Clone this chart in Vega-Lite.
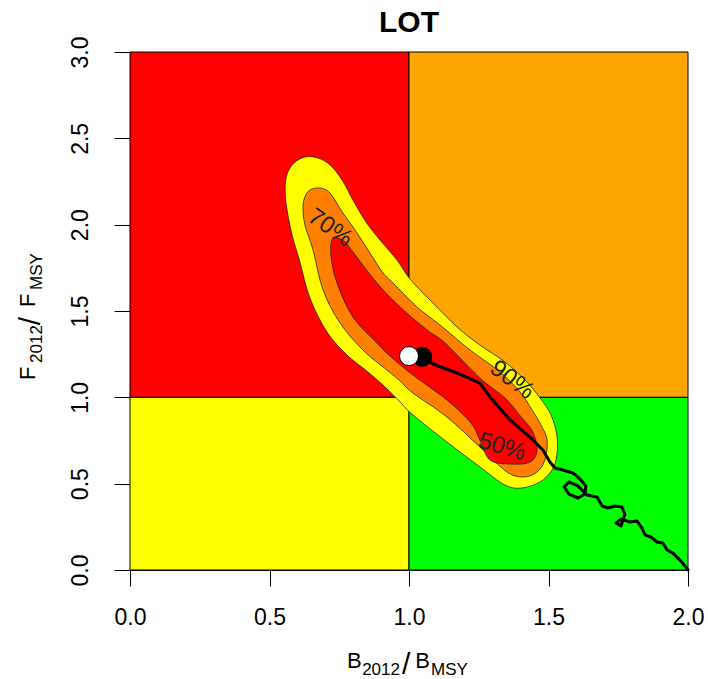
{
  "$schema": "https://vega.github.io/schema/vega-lite/v6.json",
  "width": 558,
  "height": 518,
  "autosize": {"type": "none"},
  "padding": {"left": 130, "top": 52, "right": 20, "bottom": 109},
  "background": "white",
  "config": {
    "view": {"stroke": null},
    "font": "Liberation Sans",
    "axis": {"grid": false, "tickSize": 16, "labelFontSize": 23, "labelFont": "Liberation Sans", "labelColor": "black", "tickColor": "black", "domainColor": "black", "labelFlush": false, "labelOverlap": false},
    "axisX": {"labelPadding": 20},
    "axisY": {"labelPadding": 22, "labelAngle": -90, "labelAlign": "center", "labelBaseline": "bottom"}
  },
  "title": {"text": "LOT", "fontSize": 30, "font": "Liberation Sans", "fontWeight": "bold", "anchor": "middle", "frame": "group", "offset": -2, "color": "black"},
  "datasets": {
    "quads": [
      {"zone": "red", "x": 0, "x2": 1, "y": 1, "y2": 3},
      {"zone": "orange", "x": 1, "x2": 2, "y": 1, "y2": 3},
      {"zone": "yellow", "x": 0, "x2": 1, "y": 0, "y2": 1},
      {"zone": "green", "x": 1, "x2": 2, "y": 0, "y2": 1}
    ],
    "contours": [
      {"level": "90%", "i": 0, "x": 0.556, "y": 2.201},
      {"level": "90%", "i": 1, "x": 0.563, "y": 2.293},
      {"level": "90%", "i": 2, "x": 0.588, "y": 2.357},
      {"level": "90%", "i": 3, "x": 0.627, "y": 2.392},
      {"level": "90%", "i": 4, "x": 0.674, "y": 2.386},
      {"level": "90%", "i": 5, "x": 0.717, "y": 2.346},
      {"level": "90%", "i": 6, "x": 0.760, "y": 2.259},
      {"level": "90%", "i": 7, "x": 0.799, "y": 2.143},
      {"level": "90%", "i": 8, "x": 0.846, "y": 2.015},
      {"level": "90%", "i": 9, "x": 0.896, "y": 1.911},
      {"level": "90%", "i": 10, "x": 0.957, "y": 1.795},
      {"level": "90%", "i": 11, "x": 1.004, "y": 1.685},
      {"level": "90%", "i": 12, "x": 1.086, "y": 1.546},
      {"level": "90%", "i": 13, "x": 1.176, "y": 1.402},
      {"level": "90%", "i": 14, "x": 1.254, "y": 1.303},
      {"level": "90%", "i": 15, "x": 1.344, "y": 1.205},
      {"level": "90%", "i": 16, "x": 1.416, "y": 1.100},
      {"level": "90%", "i": 17, "x": 1.470, "y": 0.996},
      {"level": "90%", "i": 18, "x": 1.509, "y": 0.898},
      {"level": "90%", "i": 19, "x": 1.530, "y": 0.782},
      {"level": "90%", "i": 20, "x": 1.530, "y": 0.666},
      {"level": "90%", "i": 21, "x": 1.513, "y": 0.579},
      {"level": "90%", "i": 22, "x": 1.470, "y": 0.510},
      {"level": "90%", "i": 23, "x": 1.405, "y": 0.475},
      {"level": "90%", "i": 24, "x": 1.344, "y": 0.492},
      {"level": "90%", "i": 25, "x": 1.254, "y": 0.597},
      {"level": "90%", "i": 26, "x": 1.136, "y": 0.741},
      {"level": "90%", "i": 27, "x": 1.014, "y": 0.898},
      {"level": "90%", "i": 28, "x": 0.968, "y": 0.973},
      {"level": "90%", "i": 29, "x": 0.914, "y": 1.060},
      {"level": "90%", "i": 30, "x": 0.849, "y": 1.152},
      {"level": "90%", "i": 31, "x": 0.778, "y": 1.245},
      {"level": "90%", "i": 32, "x": 0.706, "y": 1.378},
      {"level": "90%", "i": 33, "x": 0.645, "y": 1.575},
      {"level": "90%", "i": 34, "x": 0.609, "y": 1.784},
      {"level": "90%", "i": 35, "x": 0.581, "y": 1.940},
      {"level": "90%", "i": 36, "x": 0.563, "y": 2.085},
      {"level": "70%", "i": 0, "x": 0.620, "y": 2.102},
      {"level": "70%", "i": 1, "x": 0.627, "y": 2.160},
      {"level": "70%", "i": 2, "x": 0.645, "y": 2.201},
      {"level": "70%", "i": 3, "x": 0.681, "y": 2.212},
      {"level": "70%", "i": 4, "x": 0.717, "y": 2.183},
      {"level": "70%", "i": 5, "x": 0.763, "y": 2.068},
      {"level": "70%", "i": 6, "x": 0.814, "y": 1.952},
      {"level": "70%", "i": 7, "x": 0.860, "y": 1.836},
      {"level": "70%", "i": 8, "x": 0.907, "y": 1.720},
      {"level": "70%", "i": 9, "x": 0.943, "y": 1.662},
      {"level": "70%", "i": 10, "x": 1.029, "y": 1.523},
      {"level": "70%", "i": 11, "x": 1.111, "y": 1.419},
      {"level": "70%", "i": 12, "x": 1.219, "y": 1.274},
      {"level": "70%", "i": 13, "x": 1.326, "y": 1.147},
      {"level": "70%", "i": 14, "x": 1.398, "y": 1.031},
      {"level": "70%", "i": 15, "x": 1.441, "y": 0.927},
      {"level": "70%", "i": 16, "x": 1.473, "y": 0.840},
      {"level": "70%", "i": 17, "x": 1.495, "y": 0.753},
      {"level": "70%", "i": 18, "x": 1.487, "y": 0.637},
      {"level": "70%", "i": 19, "x": 1.459, "y": 0.568},
      {"level": "70%", "i": 20, "x": 1.412, "y": 0.539},
      {"level": "70%", "i": 21, "x": 1.351, "y": 0.568},
      {"level": "70%", "i": 22, "x": 1.254, "y": 0.712},
      {"level": "70%", "i": 23, "x": 1.136, "y": 0.886},
      {"level": "70%", "i": 24, "x": 1.014, "y": 1.025},
      {"level": "70%", "i": 25, "x": 0.968, "y": 1.095},
      {"level": "70%", "i": 26, "x": 0.921, "y": 1.158},
      {"level": "70%", "i": 27, "x": 0.835, "y": 1.274},
      {"level": "70%", "i": 28, "x": 0.753, "y": 1.430},
      {"level": "70%", "i": 29, "x": 0.692, "y": 1.622},
      {"level": "70%", "i": 30, "x": 0.656, "y": 1.853},
      {"level": "70%", "i": 31, "x": 0.627, "y": 1.998},
      {"level": "50%", "i": 0, "x": 0.728, "y": 1.923},
      {"level": "50%", "i": 1, "x": 0.771, "y": 1.900},
      {"level": "50%", "i": 2, "x": 0.799, "y": 1.842},
      {"level": "50%", "i": 3, "x": 0.885, "y": 1.662},
      {"level": "50%", "i": 4, "x": 0.968, "y": 1.523},
      {"level": "50%", "i": 5, "x": 1.065, "y": 1.390},
      {"level": "50%", "i": 6, "x": 1.129, "y": 1.315},
      {"level": "50%", "i": 7, "x": 1.254, "y": 1.112},
      {"level": "50%", "i": 8, "x": 1.344, "y": 0.996},
      {"level": "50%", "i": 9, "x": 1.405, "y": 0.880},
      {"level": "50%", "i": 10, "x": 1.444, "y": 0.799},
      {"level": "50%", "i": 11, "x": 1.459, "y": 0.695},
      {"level": "50%", "i": 12, "x": 1.434, "y": 0.625},
      {"level": "50%", "i": 13, "x": 1.362, "y": 0.614},
      {"level": "50%", "i": 14, "x": 1.290, "y": 0.637},
      {"level": "50%", "i": 15, "x": 1.254, "y": 0.753},
      {"level": "50%", "i": 16, "x": 1.222, "y": 0.851},
      {"level": "50%", "i": 17, "x": 1.136, "y": 0.985},
      {"level": "50%", "i": 18, "x": 1.014, "y": 1.129},
      {"level": "50%", "i": 19, "x": 0.932, "y": 1.239},
      {"level": "50%", "i": 20, "x": 0.885, "y": 1.315},
      {"level": "50%", "i": 21, "x": 0.799, "y": 1.465},
      {"level": "50%", "i": 22, "x": 0.742, "y": 1.662},
      {"level": "50%", "i": 23, "x": 0.720, "y": 1.824}
    ],
    "traj": [
      {"i": 0, "x": 1.047, "y": 1.234},
      {"i": 1, "x": 1.086, "y": 1.193},
      {"i": 2, "x": 1.172, "y": 1.141},
      {"i": 3, "x": 1.254, "y": 1.083},
      {"i": 4, "x": 1.290, "y": 1.002},
      {"i": 5, "x": 1.362, "y": 0.869},
      {"i": 6, "x": 1.444, "y": 0.753},
      {"i": 7, "x": 1.480, "y": 0.695},
      {"i": 8, "x": 1.505, "y": 0.625},
      {"i": 9, "x": 1.523, "y": 0.591},
      {"i": 10, "x": 1.552, "y": 0.579},
      {"i": 11, "x": 1.588, "y": 0.562},
      {"i": 12, "x": 1.613, "y": 0.527},
      {"i": 13, "x": 1.634, "y": 0.486},
      {"i": 14, "x": 1.631, "y": 0.440},
      {"i": 15, "x": 1.606, "y": 0.417},
      {"i": 16, "x": 1.573, "y": 0.440},
      {"i": 17, "x": 1.556, "y": 0.481},
      {"i": 18, "x": 1.573, "y": 0.510},
      {"i": 19, "x": 1.606, "y": 0.486},
      {"i": 20, "x": 1.638, "y": 0.434},
      {"i": 21, "x": 1.674, "y": 0.423},
      {"i": 22, "x": 1.692, "y": 0.371},
      {"i": 23, "x": 1.713, "y": 0.359},
      {"i": 24, "x": 1.738, "y": 0.371},
      {"i": 25, "x": 1.763, "y": 0.365},
      {"i": 26, "x": 1.774, "y": 0.324},
      {"i": 27, "x": 1.760, "y": 0.255},
      {"i": 28, "x": 1.742, "y": 0.272},
      {"i": 29, "x": 1.760, "y": 0.295},
      {"i": 30, "x": 1.792, "y": 0.278},
      {"i": 31, "x": 1.817, "y": 0.284},
      {"i": 32, "x": 1.835, "y": 0.243},
      {"i": 33, "x": 1.846, "y": 0.203},
      {"i": 34, "x": 1.867, "y": 0.191},
      {"i": 35, "x": 1.889, "y": 0.162},
      {"i": 36, "x": 1.910, "y": 0.156},
      {"i": 37, "x": 1.925, "y": 0.116},
      {"i": 38, "x": 1.946, "y": 0.098},
      {"i": 39, "x": 1.964, "y": 0.069},
      {"i": 40, "x": 1.978, "y": 0.046},
      {"i": 41, "x": 2.0, "y": 0.0}
    ],
    "pts": [
      {"kind": "last", "x": 1.047, "y": 1.234},
      {"kind": "median", "x": 1.0, "y": 1.239}
    ],
    "labels": [
      {"label": "90%", "x": 1.369, "y": 1.100},
      {"label": "50%", "x": 1.333, "y": 0.712},
      {"label": "70%", "x": 0.717, "y": 1.981}
    ]
  },
  "layer": [
    {
      "data": {"name": "quads"},
      "mark": {"type": "rect", "stroke": "black", "strokeWidth": 1},
      "encoding": {
        "x": {"field": "x", "type": "quantitative", "scale": {"domain": [0, 2], "nice": false, "zero": false}, "axis": {"values": [0, 0.5, 1, 1.5, 2], "format": ".1f", "title": null}},
        "y": {"field": "y", "type": "quantitative", "scale": {"domain": [0, 3], "nice": false, "zero": false}, "axis": {"values": [0, 0.5, 1, 1.5, 2, 2.5, 3], "format": ".1f", "title": null}},
        "x2": {"field": "x2"},
        "y2": {"field": "y2"},
        "fill": {"field": "zone", "type": "nominal", "scale": {"domain": ["red", "orange", "yellow", "green"], "range": ["#FF0000", "#FFA500", "#FFFF00", "#00FF00"]}, "legend": null}
      }
    },
    {
      "data": {"name": "contours"},
      "transform": [{"filter": "datum.level === '90%'"}],
      "mark": {"type": "line", "fill": "#FFFF00", "stroke": "#222222", "strokeWidth": 0.8, "interpolate": "cardinal-closed"},
      "encoding": {
        "x": {"field": "x", "type": "quantitative", "scale": {"domain": [0, 2], "nice": false, "zero": false}, "axis": {"values": [0, 0.5, 1, 1.5, 2], "format": ".1f", "title": null}},
        "y": {"field": "y", "type": "quantitative", "scale": {"domain": [0, 3], "nice": false, "zero": false}, "axis": {"values": [0, 0.5, 1, 1.5, 2, 2.5, 3], "format": ".1f", "title": null}},
        "order": {"field": "i", "type": "quantitative"}
      }
    },
    {
      "data": {"name": "contours"},
      "transform": [{"filter": "datum.level === '70%'"}],
      "mark": {"type": "line", "fill": "#FF8000", "stroke": "#222222", "strokeWidth": 0.8, "interpolate": "cardinal-closed"},
      "encoding": {
        "x": {"field": "x", "type": "quantitative", "scale": {"domain": [0, 2], "nice": false, "zero": false}, "axis": {"values": [0, 0.5, 1, 1.5, 2], "format": ".1f", "title": null}},
        "y": {"field": "y", "type": "quantitative", "scale": {"domain": [0, 3], "nice": false, "zero": false}, "axis": {"values": [0, 0.5, 1, 1.5, 2, 2.5, 3], "format": ".1f", "title": null}},
        "order": {"field": "i", "type": "quantitative"}
      }
    },
    {
      "data": {"name": "contours"},
      "transform": [{"filter": "datum.level === '50%'"}],
      "mark": {"type": "line", "fill": "#FF0000", "stroke": "#222222", "strokeWidth": 0.8, "interpolate": "cardinal-closed"},
      "encoding": {
        "x": {"field": "x", "type": "quantitative", "scale": {"domain": [0, 2], "nice": false, "zero": false}, "axis": {"values": [0, 0.5, 1, 1.5, 2], "format": ".1f", "title": null}},
        "y": {"field": "y", "type": "quantitative", "scale": {"domain": [0, 3], "nice": false, "zero": false}, "axis": {"values": [0, 0.5, 1, 1.5, 2, 2.5, 3], "format": ".1f", "title": null}},
        "order": {"field": "i", "type": "quantitative"}
      }
    },
    {
      "data": {"name": "traj"},
      "mark": {"type": "line", "color": "black", "strokeWidth": 3, "strokeJoin": "round", "strokeCap": "round"},
      "encoding": {
        "x": {"field": "x", "type": "quantitative", "scale": {"domain": [0, 2], "nice": false, "zero": false}, "axis": {"values": [0, 0.5, 1, 1.5, 2], "format": ".1f", "title": null}},
        "y": {"field": "y", "type": "quantitative", "scale": {"domain": [0, 3], "nice": false, "zero": false}, "axis": {"values": [0, 0.5, 1, 1.5, 2, 2.5, 3], "format": ".1f", "title": null}},
        "order": {"field": "i", "type": "quantitative"}
      }
    },
    {
      "data": {"name": "pts"},
      "transform": [{"filter": "datum.kind === 'last'"}],
      "mark": {"type": "point", "shape": "circle", "filled": true, "fill": "black", "stroke": "black", "size": 330, "opacity": 1},
      "encoding": {
        "x": {"field": "x", "type": "quantitative", "scale": {"domain": [0, 2], "nice": false, "zero": false}, "axis": {"values": [0, 0.5, 1, 1.5, 2], "format": ".1f", "title": null}},
        "y": {"field": "y", "type": "quantitative", "scale": {"domain": [0, 3], "nice": false, "zero": false}, "axis": {"values": [0, 0.5, 1, 1.5, 2, 2.5, 3], "format": ".1f", "title": null}}
      }
    },
    {
      "data": {"name": "pts"},
      "transform": [{"filter": "datum.kind === 'median'"}],
      "mark": {"type": "point", "shape": "circle", "filled": true, "fill": "white", "stroke": "black", "strokeWidth": 1, "size": 360, "opacity": 1},
      "encoding": {
        "x": {"field": "x", "type": "quantitative", "scale": {"domain": [0, 2], "nice": false, "zero": false}, "axis": {"values": [0, 0.5, 1, 1.5, 2], "format": ".1f", "title": null}},
        "y": {"field": "y", "type": "quantitative", "scale": {"domain": [0, 3], "nice": false, "zero": false}, "axis": {"values": [0, 0.5, 1, 1.5, 2, 2.5, 3], "format": ".1f", "title": null}}
      }
    },
    {
      "data": {"name": "labels"},
      "transform": [{"filter": "datum.label === '90%'"}],
      "mark": {"type": "text", "fontSize": 24, "font": "Liberation Sans", "color": "#222222", "angle": 37, "align": "center", "baseline": "middle"},
      "encoding": {
        "x": {"field": "x", "type": "quantitative", "scale": {"domain": [0, 2], "nice": false, "zero": false}, "axis": {"values": [0, 0.5, 1, 1.5, 2], "format": ".1f", "title": null}},
        "y": {"field": "y", "type": "quantitative", "scale": {"domain": [0, 3], "nice": false, "zero": false}, "axis": {"values": [0, 0.5, 1, 1.5, 2, 2.5, 3], "format": ".1f", "title": null}},
        "text": {"field": "label"}
      }
    },
    {
      "data": {"name": "labels"},
      "transform": [{"filter": "datum.label === '50%'"}],
      "mark": {"type": "text", "fontSize": 24, "font": "Liberation Sans", "color": "#222222", "angle": 16, "align": "center", "baseline": "middle"},
      "encoding": {
        "x": {"field": "x", "type": "quantitative", "scale": {"domain": [0, 2], "nice": false, "zero": false}, "axis": {"values": [0, 0.5, 1, 1.5, 2], "format": ".1f", "title": null}},
        "y": {"field": "y", "type": "quantitative", "scale": {"domain": [0, 3], "nice": false, "zero": false}, "axis": {"values": [0, 0.5, 1, 1.5, 2, 2.5, 3], "format": ".1f", "title": null}},
        "text": {"field": "label"}
      }
    },
    {
      "data": {"name": "labels"},
      "transform": [{"filter": "datum.label === '70%'"}],
      "mark": {"type": "text", "fontSize": 24, "font": "Liberation Sans", "color": "#222222", "angle": 35, "align": "center", "baseline": "middle"},
      "encoding": {
        "x": {"field": "x", "type": "quantitative", "scale": {"domain": [0, 2], "nice": false, "zero": false}, "axis": {"values": [0, 0.5, 1, 1.5, 2], "format": ".1f", "title": null}},
        "y": {"field": "y", "type": "quantitative", "scale": {"domain": [0, 3], "nice": false, "zero": false}, "axis": {"values": [0, 0.5, 1, 1.5, 2, 2.5, 3], "format": ".1f", "title": null}},
        "text": {"field": "label"}
      }
    },
    {
      "data": {"values": [{"part": "axis titles"}]},
      "layer": [
        {"mark": {"type": "text", "text": "B", "fontSize": 22, "align": "left", "baseline": "alphabetic", "color": "black", "clip": false},
         "encoding": {"x": {"datum": 0.778, "type": "quantitative", "scale": {"domain": [0, 2], "nice": false, "zero": false}, "axis": {"values": [0, 0.5, 1, 1.5, 2], "format": ".1f", "title": null}}, "y": {"datum": -0.568, "type": "quantitative", "scale": {"domain": [0, 3], "nice": false, "zero": false}, "axis": {"values": [0, 0.5, 1, 1.5, 2, 2.5, 3], "format": ".1f", "title": null}}}},
        {"mark": {"type": "text", "text": "2012", "fontSize": 17, "align": "left", "baseline": "alphabetic", "color": "black", "clip": false},
         "encoding": {"x": {"datum": 0.832, "type": "quantitative", "scale": {"domain": [0, 2], "nice": false, "zero": false}, "axis": {"values": [0, 0.5, 1, 1.5, 2], "format": ".1f", "title": null}}, "y": {"datum": -0.608, "type": "quantitative", "scale": {"domain": [0, 3], "nice": false, "zero": false}, "axis": {"values": [0, 0.5, 1, 1.5, 2, 2.5, 3], "format": ".1f", "title": null}}}},
        {"mark": {"type": "text", "text": "/", "fontSize": 30, "align": "left", "baseline": "alphabetic", "color": "black", "clip": false},
         "encoding": {"x": {"datum": 0.975, "type": "quantitative", "scale": {"domain": [0, 2], "nice": false, "zero": false}, "axis": {"values": [0, 0.5, 1, 1.5, 2], "format": ".1f", "title": null}}, "y": {"datum": -0.6, "type": "quantitative", "scale": {"domain": [0, 3], "nice": false, "zero": false}, "axis": {"values": [0, 0.5, 1, 1.5, 2, 2.5, 3], "format": ".1f", "title": null}}}},
        {"mark": {"type": "text", "text": "B", "fontSize": 22, "align": "left", "baseline": "alphabetic", "color": "black", "clip": false},
         "encoding": {"x": {"datum": 1.022, "type": "quantitative", "scale": {"domain": [0, 2], "nice": false, "zero": false}, "axis": {"values": [0, 0.5, 1, 1.5, 2], "format": ".1f", "title": null}}, "y": {"datum": -0.568, "type": "quantitative", "scale": {"domain": [0, 3], "nice": false, "zero": false}, "axis": {"values": [0, 0.5, 1, 1.5, 2, 2.5, 3], "format": ".1f", "title": null}}}},
        {"mark": {"type": "text", "text": "MSY", "fontSize": 17, "align": "left", "baseline": "alphabetic", "color": "black", "clip": false},
         "encoding": {"x": {"datum": 1.079, "type": "quantitative", "scale": {"domain": [0, 2], "nice": false, "zero": false}, "axis": {"values": [0, 0.5, 1, 1.5, 2], "format": ".1f", "title": null}}, "y": {"datum": -0.608, "type": "quantitative", "scale": {"domain": [0, 3], "nice": false, "zero": false}, "axis": {"values": [0, 0.5, 1, 1.5, 2, 2.5, 3], "format": ".1f", "title": null}}}},
        {"mark": {"type": "text", "text": "F", "fontSize": 22, "align": "left", "baseline": "alphabetic", "angle": 270, "color": "black", "clip": false},
         "encoding": {"x": {"datum": -0.3405, "type": "quantitative", "scale": {"domain": [0, 2], "nice": false, "zero": false}, "axis": {"values": [0, 0.5, 1, 1.5, 2], "format": ".1f", "title": null}}, "y": {"datum": 1.100, "type": "quantitative", "scale": {"domain": [0, 3], "nice": false, "zero": false}, "axis": {"values": [0, 0.5, 1, 1.5, 2, 2.5, 3], "format": ".1f", "title": null}}}},
        {"mark": {"type": "text", "text": "2012", "fontSize": 17, "align": "left", "baseline": "alphabetic", "angle": 270, "color": "black", "clip": false},
         "encoding": {"x": {"datum": -0.3154, "type": "quantitative", "scale": {"domain": [0, 2], "nice": false, "zero": false}, "axis": {"values": [0, 0.5, 1, 1.5, 2], "format": ".1f", "title": null}}, "y": {"datum": 1.199, "type": "quantitative", "scale": {"domain": [0, 3], "nice": false, "zero": false}, "axis": {"values": [0, 0.5, 1, 1.5, 2, 2.5, 3], "format": ".1f", "title": null}}}},
        {"mark": {"type": "text", "text": "/", "fontSize": 30, "align": "left", "baseline": "alphabetic", "angle": 270, "color": "black", "clip": false},
         "encoding": {"x": {"datum": -0.3225, "type": "quantitative", "scale": {"domain": [0, 2], "nice": false, "zero": false}, "axis": {"values": [0, 0.5, 1, 1.5, 2], "format": ".1f", "title": null}}, "y": {"datum": 1.418, "type": "quantitative", "scale": {"domain": [0, 3], "nice": false, "zero": false}, "axis": {"values": [0, 0.5, 1, 1.5, 2, 2.5, 3], "format": ".1f", "title": null}}}},
        {"mark": {"type": "text", "text": "F", "fontSize": 22, "align": "left", "baseline": "alphabetic", "angle": 270, "color": "black", "clip": false},
         "encoding": {"x": {"datum": -0.3405, "type": "quantitative", "scale": {"domain": [0, 2], "nice": false, "zero": false}, "axis": {"values": [0, 0.5, 1, 1.5, 2], "format": ".1f", "title": null}}, "y": {"datum": 1.523, "type": "quantitative", "scale": {"domain": [0, 3], "nice": false, "zero": false}, "axis": {"values": [0, 0.5, 1, 1.5, 2, 2.5, 3], "format": ".1f", "title": null}}}},
        {"mark": {"type": "text", "text": "MSY", "fontSize": 17, "align": "left", "baseline": "alphabetic", "angle": 270, "color": "black", "clip": false},
         "encoding": {"x": {"datum": -0.3154, "type": "quantitative", "scale": {"domain": [0, 2], "nice": false, "zero": false}, "axis": {"values": [0, 0.5, 1, 1.5, 2], "format": ".1f", "title": null}}, "y": {"datum": 1.622, "type": "quantitative", "scale": {"domain": [0, 3], "nice": false, "zero": false}, "axis": {"values": [0, 0.5, 1, 1.5, 2, 2.5, 3], "format": ".1f", "title": null}}}}
      ]
    }
  ]
}
